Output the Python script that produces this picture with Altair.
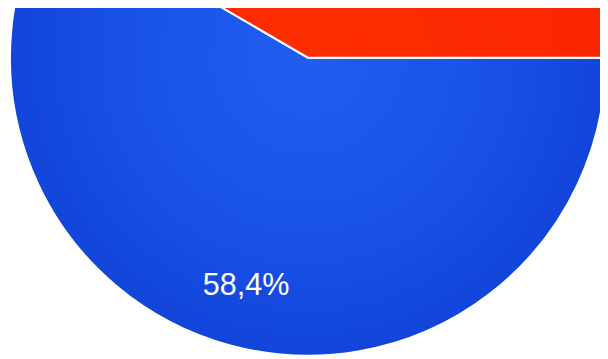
import math
import altair as alt
import pandas as pd

# Data
slices = ["Blue", "Red"]
shares = [58.4, 41.6]
label_texts = ["58,4%", "41,6%"]
order = [0, 1]

df = pd.DataFrame({"slice": slices, "share": shares, "label": label_texts, "order": order})

theta_scale = alt.Scale(domain=[0, 100], range=[math.pi / 2, math.pi / 2 + 2 * math.pi])

CX, CY, R = 304, 48, 302

base = alt.Chart(df).transform_window(
    end="sum(share)", sort=[alt.SortField("order")], frame=[None, 0]
).transform_calculate(
    start="datum.end - datum.share", mid="datum.end - datum.share / 2"
)

blue_fill = {
    "gradient": "radial",
    "x1": 0.5, "y1": 0.375, "r1": 0,
    "x2": 0.5, "y2": 0.375, "r2": 0.5,
    "stops": [
        {"offset": 0, "color": "#1f5ef0"},
        {"offset": 0.55, "color": "#1a53e8"},
        {"offset": 1, "color": "#1245da"},
    ],
}
red_fill = {
    "gradient": "radial",
    "x1": 0.4636, "y1": 0.768, "r1": 0,
    "x2": 0.4636, "y2": 0.768, "r2": 0.536,
    "stops": [
        {"offset": 0, "color": "#ff2e00"},
        {"offset": 1, "color": "#fa2600"},
    ],
}

enc = dict(
    theta=alt.Theta("start:Q", scale=theta_scale, stack=False),
    theta2="end:Q",
    x=alt.value(CX),
    y=alt.value(CY),
)

blue = base.transform_filter(alt.datum.slice == "Blue").mark_arc(
    radius=R, stroke="white", strokeWidth=2, fill=blue_fill
).encode(**enc)

red = base.transform_filter(alt.datum.slice == "Red").mark_arc(
    radius=R, stroke="white", strokeWidth=2, fill=red_fill
).encode(**enc)

# only the blue slice's label lies inside the visible crop
labels = base.transform_filter(alt.datum.slice == "Blue").mark_text(
    radius=240, fontSize=31, color="white", font="Liberation Sans",
    baseline="middle", align="center", dy=0
).encode(
    theta=alt.Theta("mid:Q", scale=theta_scale, stack=False),
    text="label:N",
    x=alt.value(CX),
    y=alt.value(CY),
)

chart = alt.layer(blue, red, labels).properties(
    width=600, height=351, autosize=alt.AutoSizeParams(type="none"), padding=0,
    background="white"
).configure_view(stroke=None)

chart.save("out.html", embed_options={"renderer": "svg", "actions": False})
